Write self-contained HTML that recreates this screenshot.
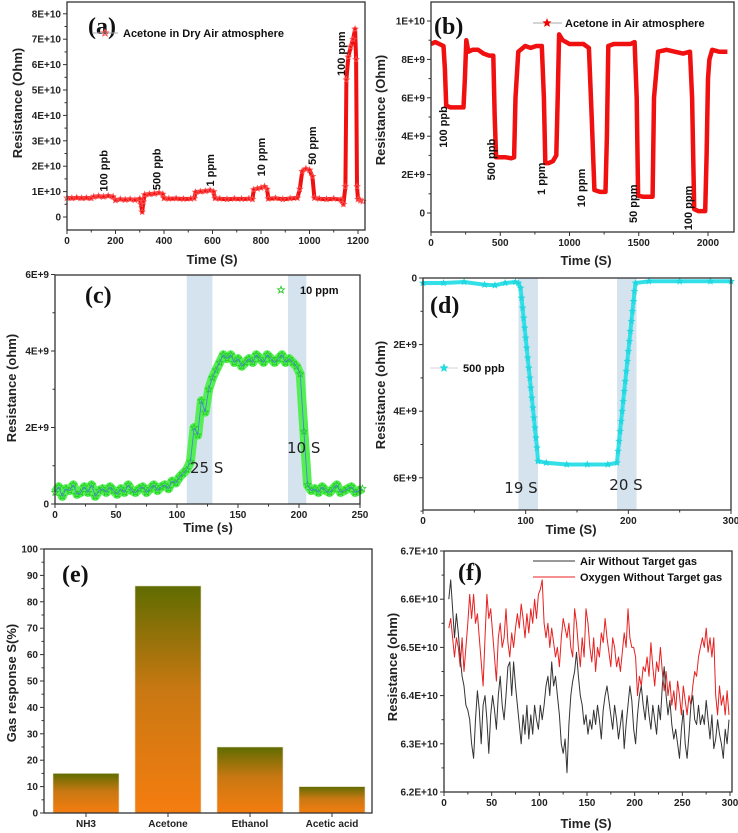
<!DOCTYPE html>
<html><head><meta charset="utf-8"><style>
html,body{margin:0;padding:0;background:#fff;}
svg{display:block;font-family:"Liberation Sans",Arial,sans-serif;}
.tk{font-size:10px;font-weight:bold;fill:#222;}
.ttl{font-size:13px;font-weight:bold;fill:#222;}
.lab{font-size:11px;font-weight:bold;fill:#111;}
.pl{font-family:"Liberation Serif",serif;font-size:24px;font-weight:bold;fill:#111;}
.rs{font-family:"DejaVu Sans",sans-serif;font-size:15px;fill:#222;}
</style></head><body>
<svg id="fig" width="738" height="833" viewBox="0 0 738 833">
<defs>
<linearGradient id="barg" x1="0" y1="0" x2="0" y2="1">
<stop offset="0" stop-color="#5f6c00"/><stop offset="0.45" stop-color="#c87812"/><stop offset="1" stop-color="#f57d10"/>
</linearGradient>
</defs>
</svg>
<script>
// ---- panel (a) data (Resistance in 1E10 Ohm)
const aTime=[0,20,40,60,80,100,110,130,150,170,190,200,220,240,260,280,300,305,310,315,320,340,360,380,395,400,420,450,480,510,525,530,550,570,590,605,610,630,660,690,720,750,765,770,785,800,815,825,830,860,890,920,950,960,970,985,1000,1012,1020,1040,1070,1100,1130,1140,1148,1152,1160,1170,1180,1188,1192,1196,1200,1210,1220];
const aVal=[0.75,0.74,0.76,0.74,0.75,0.74,0.8,0.82,0.8,0.83,0.8,0.66,0.7,0.68,0.7,0.67,0.72,0.5,0.2,0.6,0.88,0.9,0.92,0.95,0.9,0.74,0.72,0.73,0.71,0.72,0.74,0.98,1.0,1.02,1.05,1.0,0.74,0.72,0.7,0.72,0.71,0.72,0.7,1.08,1.12,1.15,1.2,1.1,0.72,0.74,0.7,0.73,0.75,1.1,1.8,1.9,1.85,1.6,0.75,0.72,0.7,0.72,0.68,0.5,1.2,5.4,6.3,6.7,7.0,7.4,6.2,1.2,0.7,0.65,0.62];
const aLabels=["100 ppb","500 ppb","1 ppm","10 ppm","50 ppm","100 ppm"];
const aLabelT=[150,370,590,800,1010,1130];
const aLabelV=[1.0,1.06,1.2,1.6,2.05,5.55];
// ---- panel (b) data (1E9 Ohm)
const bTime=[0,30,60,90,100,110,140,180,220,235,245,255,270,300,340,380,420,450,460,470,500,540,580,600,610,630,680,720,760,800,815,825,850,880,905,915,925,950,1000,1050,1100,1140,1160,1180,1220,1260,1270,1280,1320,1380,1440,1470,1485,1495,1530,1570,1600,1610,1640,1700,1760,1820,1870,1885,1900,1930,1960,1980,1990,2000,2010,2030,2080,2140];
const bVal=[8.8,8.9,8.8,8.7,7.5,5.6,5.5,5.5,5.5,5.5,7.0,9.0,8.4,8.5,8.5,8.3,8.2,8.2,5.0,2.9,2.9,2.9,2.85,2.9,6.0,8.4,8.7,8.6,8.7,8.7,6.0,2.6,2.6,2.7,3.0,6.0,9.3,9.0,8.8,8.8,8.8,8.6,5.0,1.2,1.1,1.1,4.0,8.7,8.8,8.8,8.8,8.9,6.0,0.9,0.85,0.85,0.85,6.0,8.4,8.5,8.4,8.3,8.4,6.0,0.2,0.1,0.1,0.1,3.0,7.0,8.0,8.5,8.4,8.4];
const bLabels=["100 ppb","500 ppb","1 ppm","10 ppm","50 ppm","100 ppm"];
const bLabelT=[87,433,794,1083,1458,1856];
const bLabelV=[3.4,1.7,0.94,0.3,-0.52,-0.9];
// ---- panel (c) data (1E9 ohm), t = 0,3,6,...
const cVal=[0.3,0.45,0.2,0.4,0.35,0.5,0.25,0.3,0.45,0.3,0.5,0.2,0.35,0.4,0.3,0.45,0.35,0.25,0.4,0.3,0.5,0.35,0.3,0.4,0.45,0.3,0.4,0.5,0.35,0.45,0.5,0.4,0.6,0.55,0.7,0.8,0.9,1.1,2.0,1.8,2.7,2.4,3.0,3.3,3.5,3.7,3.9,3.8,3.9,3.7,3.8,3.6,3.7,3.8,3.7,3.9,3.8,3.7,3.9,3.8,3.7,3.8,3.9,3.7,3.8,3.7,3.6,3.4,1.9,0.5,0.35,0.4,0.3,0.45,0.35,0.3,0.4,0.5,0.3,0.35,0.4,0.45,0.3,0.35,0.4];
const cBands=[[108,129],[191,206]];
// ---- panel (d) data (1E9 ohm, inverted axis)
const dTime=[0,20,40,60,70,80,90,93,95,96,97,98,99,100,101,102,103,104,105,106,107,108,109,110,111,112,120,140,160,180,189,190,191,192,193,194,195,196,197,198,199,200,201,202,203,204,205,206,207,220,250,280,300];
const dVal=[0.15,0.15,0.12,0.2,0.22,0.15,0.12,0.15,0.3,0.6,0.9,1.2,1.5,1.8,2.1,2.4,2.7,3.0,3.3,3.6,3.9,4.2,4.5,4.8,5.1,5.5,5.55,5.6,5.6,5.6,5.55,5.2,4.9,4.6,4.3,4.0,3.7,3.4,3.1,2.8,2.5,2.2,1.9,1.6,1.3,1.0,0.7,0.4,0.15,0.1,0.1,0.1,0.1];
const dBands=[[93,112],[189,208]];
// ---- panel (e)
const eCats=["NH3","Acetone","Ethanol","Acetic acid"];
const eVals=[15,86,25,10];
// ---- panel (f) (1E10 ohm), t = 5,7,9,...
const fAir=[6.60,6.64,6.58,6.52,6.57,6.53,6.48,6.44,6.42,6.38,6.37,6.35,6.30,6.27,6.35,6.41,6.37,6.30,6.38,6.40,6.35,6.28,6.36,6.40,6.37,6.33,6.40,6.44,6.38,6.35,6.40,6.46,6.47,6.40,6.47,6.42,6.38,6.34,6.30,6.36,6.32,6.38,6.31,6.36,6.32,6.38,6.35,6.33,6.38,6.35,6.38,6.42,6.44,6.40,6.47,6.42,6.44,6.40,6.36,6.30,6.28,6.31,6.24,6.34,6.40,6.43,6.45,6.49,6.44,6.40,6.38,6.34,6.36,6.32,6.35,6.33,6.37,6.34,6.38,6.35,6.31,6.37,6.40,6.42,6.39,6.36,6.33,6.38,6.35,6.31,6.34,6.37,6.29,6.34,6.38,6.42,6.39,6.33,6.30,6.36,6.40,6.42,6.38,6.35,6.40,6.36,6.33,6.38,6.35,6.32,6.38,6.35,6.42,6.46,6.40,6.36,6.39,6.34,6.31,6.33,6.30,6.27,6.33,6.37,6.30,6.27,6.32,6.38,6.40,6.35,6.34,6.38,6.34,6.36,6.34,6.39,6.35,6.31,6.36,6.29,6.31,6.35,6.32,6.30,6.27,6.33,6.30,6.35];
const fOxy=[6.54,6.56,6.52,6.48,6.52,6.50,6.46,6.52,6.45,6.50,6.55,6.61,6.56,6.61,6.55,6.57,6.52,6.47,6.42,6.52,6.61,6.56,6.58,6.53,6.48,6.43,6.52,6.55,6.50,6.52,6.58,6.51,6.48,6.53,6.50,6.54,6.57,6.54,6.59,6.56,6.52,6.57,6.53,6.58,6.55,6.60,6.56,6.61,6.62,6.64,6.55,6.52,6.55,6.50,6.54,6.51,6.48,6.50,6.46,6.52,6.56,6.54,6.52,6.55,6.50,6.48,6.58,6.55,6.50,6.46,6.52,6.48,6.58,6.55,6.50,6.47,6.52,6.45,6.50,6.48,6.53,6.51,6.56,6.52,6.49,6.46,6.52,6.50,6.46,6.48,6.45,6.49,6.53,6.50,6.58,6.52,6.50,6.50,6.48,6.40,6.44,6.42,6.46,6.45,6.48,6.44,6.51,6.46,6.42,6.47,6.45,6.50,6.45,6.41,6.45,6.40,6.43,6.38,6.41,6.37,6.43,6.40,6.36,6.42,6.39,6.36,6.40,6.38,6.42,6.45,6.44,6.48,6.50,6.52,6.50,6.54,6.49,6.52,6.48,6.52,6.40,6.36,6.42,6.38,6.40,6.36,6.41,6.36];

const svg=document.getElementById('fig');
const NS='http://www.w3.org/2000/svg';
function mk(tag,attrs,parent){const e=document.createElementNS(NS,tag);for(const k in attrs)e.setAttribute(k,attrs[k]);(parent||svg).appendChild(e);return e;}
function txt(s,x,y,cls,anchor,rot){const t=mk('text',{x:x,y:y,class:cls,'text-anchor':anchor||'middle'});if(rot)t.setAttribute('transform','rotate(-90 '+x+' '+y+')');t.textContent=s;return t;}
function starD(cx,cy,r){let d='';for(let i=0;i<10;i++){const a=-Math.PI/2+i*Math.PI/5;const rr=i%2?r*0.45:r;d+=(i?'L':'M')+(cx+rr*Math.cos(a)).toFixed(1)+' '+(cy+rr*Math.sin(a)).toFixed(1);}return d+'Z';}
function box(x0,y0,x1,y1,name){const r=mk('rect',{x:x0,y:y0,width:x1-x0,height:y1-y0,fill:'none',stroke:'#333','stroke-width':1.3});}
function xTicks(vals,fx,yb,labels,minor){vals.forEach((v,i)=>{mk('line',{x1:fx(v),y1:yb,x2:fx(v),y2:yb+4,stroke:'#333'});if(labels){const t=txt(labels[i],fx(v),yb+14,'tk');}});(minor||[]).forEach(v=>mk('line',{x1:fx(v),y1:yb,x2:fx(v),y2:yb+2.5,stroke:'#333'}));}
function yTicks(vals,fy,xl,labels,minor){vals.forEach((v,i)=>{mk('line',{x1:xl-4,y1:fy(v),x2:xl,y2:fy(v),stroke:'#333'});if(labels){const t=txt(labels[i],xl-6,fy(v)+3.5,'tk','end');}});(minor||[]).forEach(v=>mk('line',{x1:xl-2.5,y1:fy(v),x2:xl,y2:fy(v),stroke:'#333'}));}
function poly(xs,ys,fx,fy,color,w,name){const p=mk('polyline',{points:xs.map((x,i)=>fx(x).toFixed(1)+','+fy(ys[i]).toFixed(1)).join(' '),fill:'none',stroke:color,'stroke-width':w,'stroke-linejoin':'round'});return p;}
function stars(xs,ys,fx,fy,color,r,name){const g=mk('g',{fill:'none',stroke:color,'stroke-width':0.8});xs.forEach((x,i)=>mk('path',{d:starD(fx(x),fy(ys[i]),r)},g));return g;}

// ===== Panel A
const ax=t=>67+t*(291/1200), ay=v=>217-v*25.4;
poly(aTime,aVal,ax,ay,'#f01010',4,'series-acetone-dry-air');
stars(aTime,aVal,ax,ay,'#ff5050',3,'series-a-markers');
box(67,2,365,230,'plot-area-a');
xTicks([0,200,400,600,800,1000,1200],ax,230,['0','200','400','600','800','1000','1200'],[100,300,500,700,900,1100]);
yTicks([0,1,2,3,4,5,6,7,8],ay,67,['0','1E+10','2E+10','3E+10','4E+10','5E+10','6E+10','7E+10','8E+10'],[0.5,1.5,2.5,3.5,4.5,5.5,6.5,7.5]);
aLabels.forEach((s,i)=>{const t=txt(s,ax(aLabelT[i])+4,ay(aLabelV[i]),'lab','start',true);});
txt('(a)',88,34,'pl','start');
mk('line',{x1:92,y1:33,x2:118,y2:33,stroke:'#aaa'});mk('path',{d:starD(105,33,3.5),fill:'none',stroke:'#f55'});
txt('Acetone in Dry Air atmosphere',123,37,'lab','start');
txt('Resistance (Ohm)',22,103,'ttl','middle',true);
txt('Time (S)',212,264,'ttl');

// ===== Panel B
const bx=t=>431+t*(277/2000), by=v=>213-v*19.2;
poly(bTime,bVal,bx,by,'#f01010',4.5,'series-acetone-air');
box(431,2,734,232,'plot-area-b');
xTicks([0,500,1000,1500,2000],bx,232,['0','500','1000','1500','2000'],[250,750,1250,1750]);
yTicks([0,2,4,6,8,10],by,431,['0','2E+9','4E+9','6E+9','8E+9','1E+10'],[1,3,5,7,9]);
bLabels.forEach((s,i)=>{const t=txt(s,bx(bLabelT[i])+4,by(bLabelV[i]),'lab','start',true);});
txt('(b)',434,34,'pl','start');
mk('line',{x1:533,y1:23,x2:562,y2:23,stroke:'#aaa'});mk('path',{d:starD(547,23,3.5),fill:'#e00',stroke:'#e00'});
txt('Acetone in Air atmosphere',565,27,'lab','start');
txt('Resistance (Ohm)',385,110,'ttl','middle',true);
txt('Time (S)',586,265,'ttl');

// ===== Panel C
const cx=t=>55+t*(305/250), cy=v=>504-v*38.25;
cBands.forEach(b=>{const r=mk('rect',{x:cx(b[0]),y:275,width:cx(b[1])-cx(b[0]),height:229,fill:'#c9dcea',opacity:0.8});});
const cTime=cVal.map((v,i)=>i*3);
poly(cTime,cVal,cx,cy,'#55ee55',9,'series-10ppm');
stars(cTime,cVal,cx,cy,'#22cc22',3.5,'series-c-markers');
poly(cTime,cVal,cx,cy,'#4a7de0',0.8,'series-c-line');
box(55,275,360,504,'plot-area-c');
xTicks([0,50,100,150,200,250],cx,504,['0','50','100','150','200','250'],[25,75,125,175,225]);
yTicks([0,2,4,6],cy,55,['0','2E+9','4E+9','6E+9'],[1,3,5]);
txt('(c)',85,303,'pl','start');
mk('path',{d:starD(281,290,3.5),fill:'none',stroke:'#3c3'});
txt('10 ppm',300,294,'lab','start');
txt('25 S',190,473,'rs','start');
txt('10 S',287,453,'rs','start');
txt('Resistance (ohm)',16,388,'ttl','middle',true);
txt('Time (s)',208,532,'ttl');

// ===== Panel D
const dx=t=>423+t*(308/300), dy=v=>278+v*33.3;
dBands.forEach(b=>{const r=mk('rect',{x:dx(b[0]),y:278,width:dx(b[1])-dx(b[0]),height:232,fill:'#c9dcea',opacity:0.8});});
poly(dTime,dVal,dx,dy,'#33e0e8',4,'series-500ppb');
stars(dTime,dVal,dx,dy,'#22d8e0',3,'series-d-markers').setAttribute('fill','#22d8e0');
box(423,278,731,510,'plot-area-d');
xTicks([0,100,200,300],dx,510,['0','100','200','300'],[50,150,250]);
yTicks([0,2,4,6],dy,423,['0','2E+9','4E+9','6E+9'],[1,3,5,7]);
txt('(d)',430,313,'pl','start');
mk('line',{x1:430,y1:368,x2:458,y2:368,stroke:'#dcd'});mk('path',{d:starD(444,368,3.5),fill:'#2dd',stroke:'#2dd'});
txt('500 ppb',463,372,'lab','start');
txt('19 S',521,493,'rs');
txt('20 S',626,490,'rs');
txt('Resistance (ohm)',385,395,'ttl','middle',true);
txt('Time (S)',571,534,'ttl');

// ===== Panel E
const ex=i=>86+i*82, ey=v=>813-v*2.64;
eVals.forEach((v,i)=>{const r=mk('rect',{x:ex(i)-33,y:ey(v),width:66,height:ey(0)-ey(v),fill:'url(#barg)',stroke:'#e8e0c8','stroke-width':0.6});});
box(44,549,372,813,'plot-area-e');
xTicks(eCats.map((c,i)=>i),ex,813,eCats);
yTicks([0,10,20,30,40,50,60,70,80,90,100],ey,44,['0','10','20','30','40','50','60','70','80','90','100'],[5,15,25,35,45,55,65,75,85,95]);
txt('(e)',62,582,'pl','start');
txt('Gas response S(%)',16,683,'ttl','middle',true);

// ===== Panel F
const fx=t=>444+t*(286/300), fy=v=>792-(v-6.2)*482;
const fTA=fAir.map((v,i)=>5+i*2), fTO=fOxy.map((v,i)=>5+i*2);
poly(fTO,fOxy,fx,fy,'#e82020',1,'series-oxygen');
poly(fTA,fAir,fx,fy,'#333',1,'series-air');
box(444,551,732,792,'plot-area-f');
xTicks([0,50,100,150,200,250,300],fx,792,['0','50','100','150','200','250','300'],[25,75,125,175,225,275]);
yTicks([6.2,6.3,6.4,6.5,6.6,6.7],fy,444,['6.2E+10','6.3E+10','6.4E+10','6.5E+10','6.6E+10','6.7E+10'],[6.25,6.35,6.45,6.55,6.65]);
txt('(f)',458,580,'pl','start');
mk('line',{x1:533,y1:561,x2:575,y2:561,stroke:'#333'});
txt('Air Without Target gas',580,565,'lab','start');
mk('line',{x1:533,y1:577,x2:575,y2:577,stroke:'#e82020'});
txt('Oxygen Without Target gas',580,581,'lab','start');
txt('Resistance (ohm)',397,667,'ttl','middle',true);
txt('Time (S)',586,828,'ttl');
</script>
</body></html>
